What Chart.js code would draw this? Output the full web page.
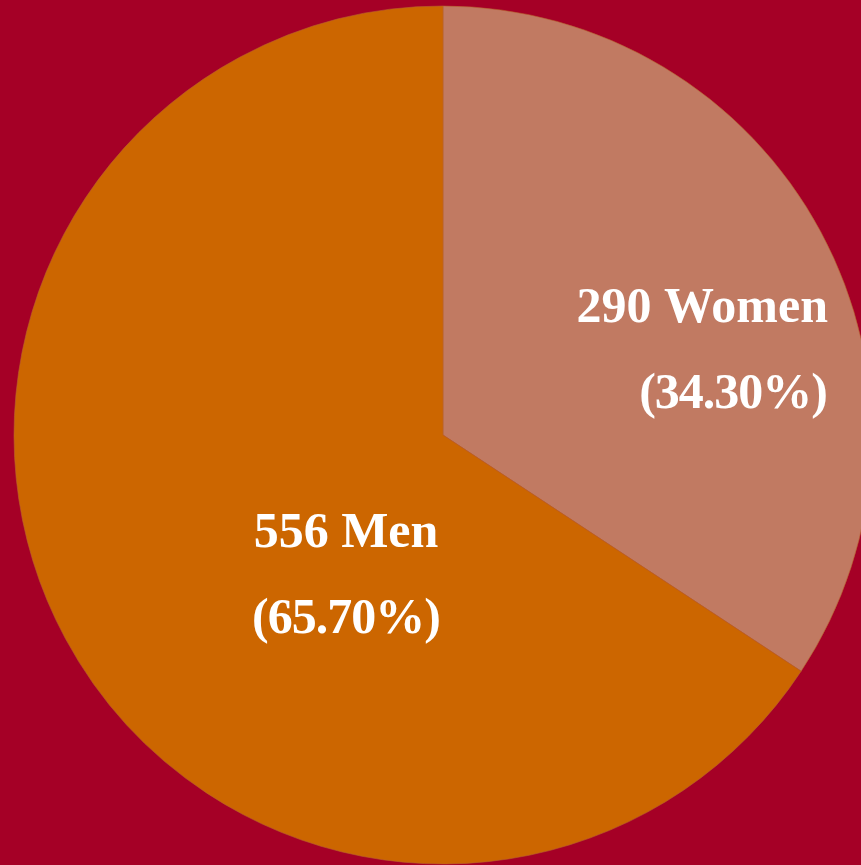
<!DOCTYPE html>
<html>
<head>
<meta charset="utf-8">
<script src="https://cdn.jsdelivr.net/npm/chart.js@4"></script>
<style>
    html, body { margin: 0; padding: 0; background: #A50026; overflow: hidden; width: 861px; height: 865px; }
    #wrap { position: absolute; left: 0; top: 0; }
</style>
</head>
<body>
<div id="wrap"><canvas id="pie" width="886" height="870"></canvas></div>
<script>
const LABELS = ['Women', 'Men'];
const COUNTS = [290, 556];
const PCT_TEXT = ['(34.30%)', '(65.70%)'];
const COLORS = ['#C17A62', '#CC6600'];

// label placement relative to the pie centre (px)
const LABEL_POS = [
    { dx: 385, dy: -113, align: 'right' },
    { dx: -97, dy: 112, align: 'center' },
];
const LINE_GAP = 86;

const pieLabels = {
    id: 'pieLabels',
    afterDatasetsDraw(chart) {
        const { ctx } = chart;
        const arcs = chart.getDatasetMeta(0).data;
        ctx.save();
        ctx.fillStyle = '#FFFFFF';
        ctx.font = 'bold 50px "Palatino Linotype", Palatino, "Book Antiqua", "Liberation Serif", serif';
        ctx.textBaseline = 'alphabetic';
        arcs.forEach((arc, i) => {
            const p = LABEL_POS[i];
            const x = arc.x + p.dx, y = arc.y + p.dy;
            ctx.textAlign = p.align;
            ctx.letterSpacing = '0px';
            ctx.fillText(COUNTS[i] + ' ' + LABELS[i], x, y);
            // the % glyph is wider in the fallback font, pull the line in a bit
            ctx.letterSpacing = '-1px';
            ctx.fillText(PCT_TEXT[i], p.align === 'right' ? x - 1 : x, y + LINE_GAP);
        });
        ctx.restore();
    },
};

new Chart(document.getElementById('pie'), {
    type: 'pie',
    data: {
        labels: LABELS,
        datasets: [{ data: COUNTS, backgroundColor: COLORS, borderColor: '#B8612E', borderWidth: 0.6 }],
    },
    options: {
        responsive: false,
        animation: false,
        radius: 429,
        layout: { padding: 0 },
        plugins: { legend: { display: false }, tooltip: { enabled: false } },
    },
    plugins: [pieLabels],
});
</script>
</body>
</html>
